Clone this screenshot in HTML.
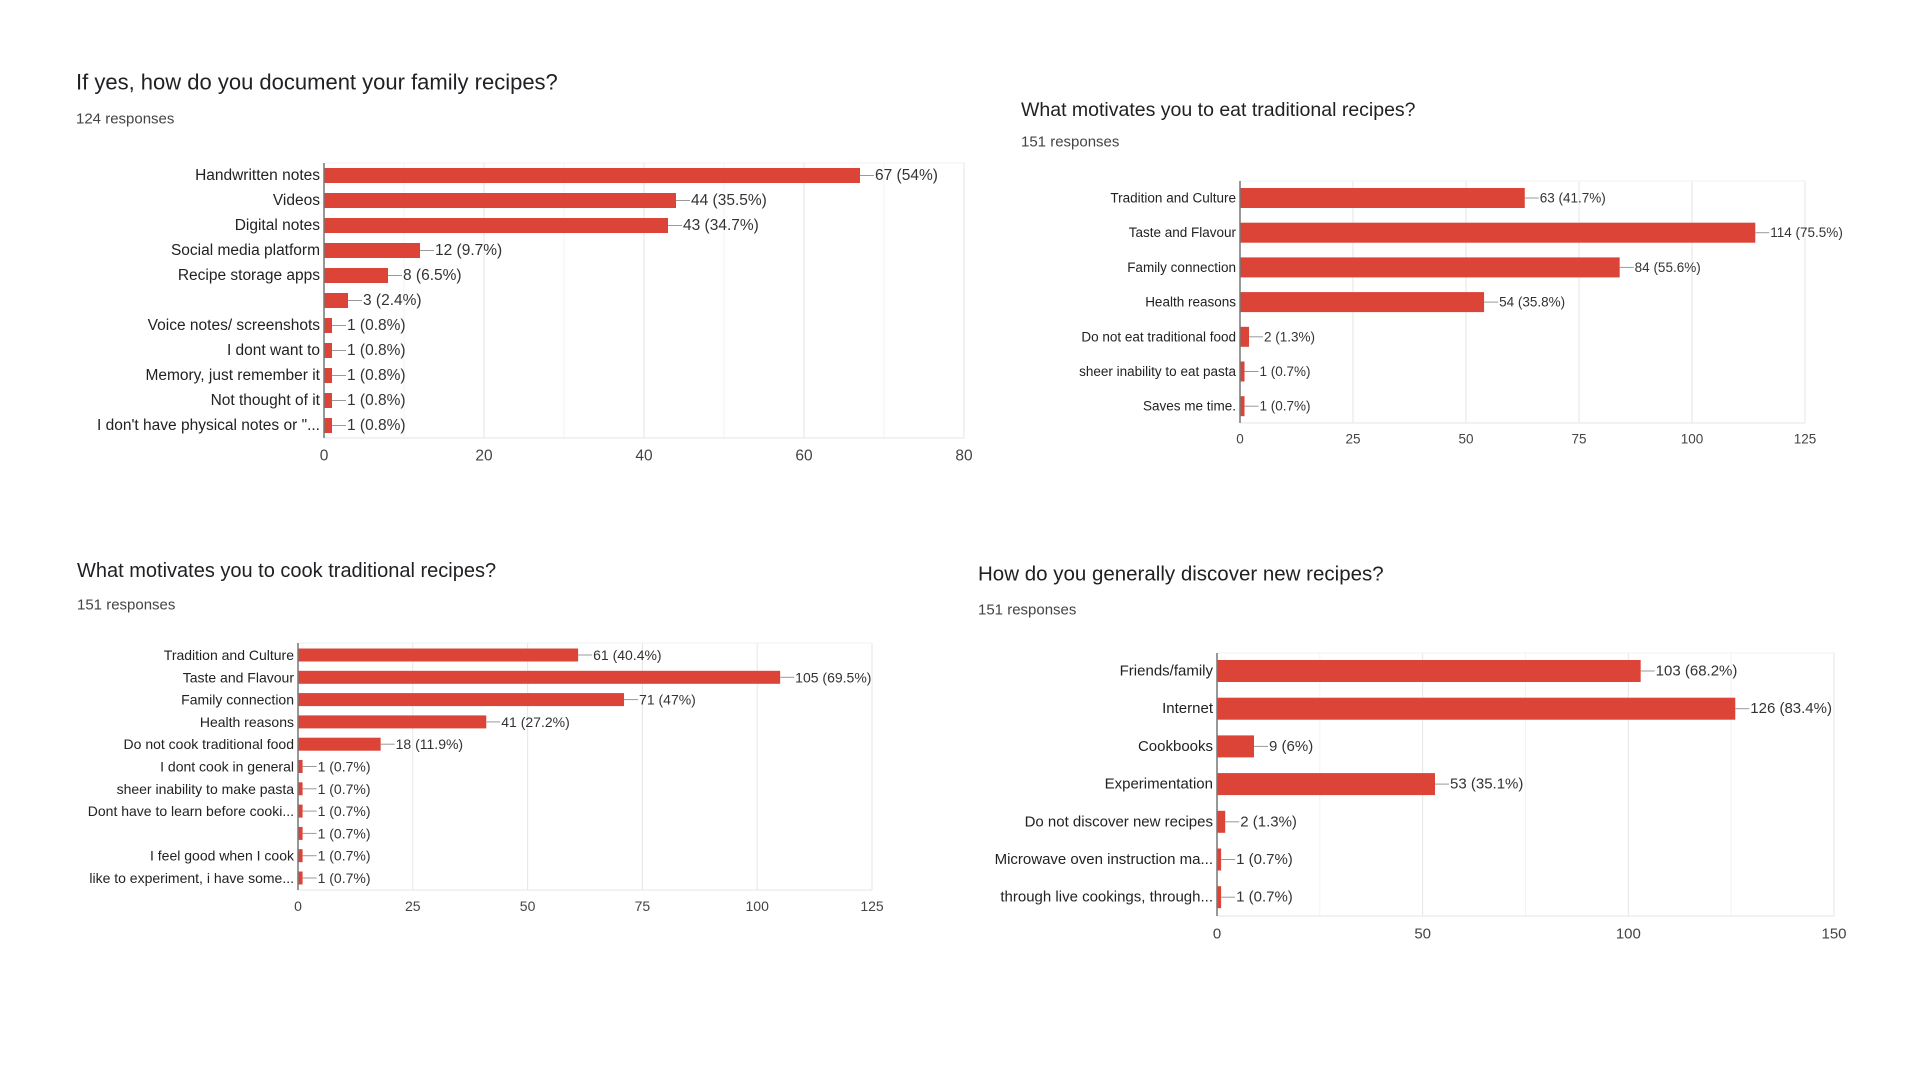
<!DOCTYPE html>
<html><head><meta charset="utf-8"><style>
html,body{margin:0;padding:0;background:#fff;width:1920px;height:1080px;overflow:hidden;font-family:"Liberation Sans",Arial,sans-serif}
svg{position:absolute;left:0;top:0}
</style></head><body>
<svg id="s" width="1920" height="1080"></svg>
<script>
const c1Cats=["Handwritten notes","Videos","Digital notes","Social media platform","Recipe storage apps","","Voice notes/ screenshots","I dont want to","Memory, just remember it","Not thought of it","I don't have physical notes or \"..."];
const c1Vals=[67,44,43,12,8,3,1,1,1,1,1];
const c1Pcts=["54%","35.5%","34.7%","9.7%","6.5%","2.4%","0.8%","0.8%","0.8%","0.8%","0.8%"];
const c1Ticks=[0,20,40,60,80];
const c2Cats=["Tradition and Culture","Taste and Flavour","Family connection","Health reasons","Do not eat traditional food","sheer inability to eat pasta","Saves me time."];
const c2Vals=[63,114,84,54,2,1,1];
const c2Pcts=["41.7%","75.5%","55.6%","35.8%","1.3%","0.7%","0.7%"];
const c2Ticks=[0,25,50,75,100,125];
const c3Cats=["Tradition and Culture","Taste and Flavour","Family connection","Health reasons","Do not cook traditional food","I dont cook in general","sheer inability to make pasta","Dont have to learn before cooki...","","I feel good when I cook","like to experiment, i have some..."];
const c3Vals=[61,105,71,41,18,1,1,1,1,1,1];
const c3Pcts=["40.4%","69.5%","47%","27.2%","11.9%","0.7%","0.7%","0.7%","0.7%","0.7%","0.7%"];
const c3Ticks=[0,25,50,75,100,125];
const c4Cats=["Friends/family","Internet","Cookbooks","Experimentation","Do not discover new recipes","Microwave oven instruction ma...","through live cookings, through..."];
const c4Vals=[103,126,9,53,2,1,1];
const c4Pcts=["68.2%","83.4%","6%","35.1%","1.3%","0.7%","0.7%"];
const c4Ticks=[0,50,100,150];

const NS="http://www.w3.org/2000/svg";
const svg=document.getElementById('s');
function mk(t,a,p){const e=document.createElementNS(NS,t);for(const k in a)e.setAttribute(k,a[k]);(p||svg).appendChild(e);return e;}
function txt(p,x,y,s,size,anchor,fill){const e=mk('text',{x:x,y:y,'font-size':size,'text-anchor':anchor||'start',fill:fill||'#222','dominant-baseline':'central'},p);e.textContent=s;return e;}

function chart(o,cats,vals,pcts,ticks){
  const g=mk('g',{});
  
  
  const t=txt(g,o.tx,o.ty,o.title,o.tsize,'start','#202124');
  
  
  const r=txt(g,o.tx,o.ry,o.resp,15,'start','#444');
  
  
  const max=ticks[ticks.length-1];
  const xs=v=>o.x0+(o.x1-o.x0)*v/max;
  const ys=i=>o.y0+i*o.step;
  const n=ticks.length-1;
  for(let i=0;i<=n*(o.minor?2:1);i++){
    const v=max*i/(n*(o.minor?2:1));
    const gl=mk('line',{x1:xs(v),x2:xs(v),y1:o.top,y2:o.bot,stroke:(o.minor&&i%2)?'#f3f3f3':'#e6e6e6','stroke-width':1},g);
    
    
  }
  mk('line',{x1:o.x0,x2:o.x1,y1:o.bot,y2:o.bot,stroke:'#e6e6e6'},g);
  mk('line',{x1:o.x0,x2:o.x1,y1:o.top,y2:o.top,stroke:'#f0f0f0'},g);
  ticks.forEach(v=>{
    const tl=txt(g,xs(v),o.tky,String(v),o.fs,'middle','#444');
    
    
  });
  cats.forEach((c,i)=>{
    const y=ys(i);
    const l=txt(g,o.x0-4,y,c,o.fs,'end','#222');
    
    
    const b=mk('rect',{x:o.x0,y:y-o.bh/2,width:Math.max(xs(vals[i])-o.x0,1),height:o.bh,fill:'#db4437'},g);
    
    
    const xe=xs(vals[i]);
    mk('line',{x1:xe,x2:xe+14,y1:y,y2:y,stroke:'#999','stroke-width':1},g);
    const v=txt(g,xe+15,y,vals[i]+' ('+pcts[i]+')',o.fs,'start','#333');
    
    
  });
  const ax=mk('line',{x1:o.x0,x2:o.x0,y1:o.top,y2:o.bot,stroke:'#777','stroke-width':1.5},g);
  
  
}
chart({name:'document-recipes-chart',title:'If yes, how do you document your family recipes?',tx:76,ty:82,tsize:22,resp:'124 responses',ry:119,
  x0:324,x1:964,y0:175.5,step:25,bh:15,top:163,bot:438,tky:456,fs:15.5,minor:true},c1Cats,c1Vals,c1Pcts,c1Ticks);
chart({name:'eat-motivation-chart',title:'What motivates you to eat traditional recipes?',tx:1021,ty:110,tsize:19.5,resp:'151 responses',ry:142,
  x0:1240,x1:1805,y0:198,step:34.7,bh:20,top:181,bot:423,tky:439,fs:13.5},c2Cats,c2Vals,c2Pcts,c2Ticks);
chart({name:'cook-motivation-chart',title:'What motivates you to cook traditional recipes?',tx:77,ty:571,tsize:20,resp:'151 responses',ry:605,
  x0:298,x1:872,y0:655,step:22.3,bh:13,top:643,bot:890,tky:906,fs:14},c3Cats,c3Vals,c3Pcts,c3Ticks);
chart({name:'discover-recipes-chart',title:'How do you generally discover new recipes?',tx:978,ty:574,tsize:20.5,resp:'151 responses',ry:610,
  x0:1217,x1:1834,y0:671,step:37.7,bh:22,top:653,bot:916,tky:934,fs:15,minor:true},c4Cats,c4Vals,c4Pcts,c4Ticks);
</script>
</body></html>
